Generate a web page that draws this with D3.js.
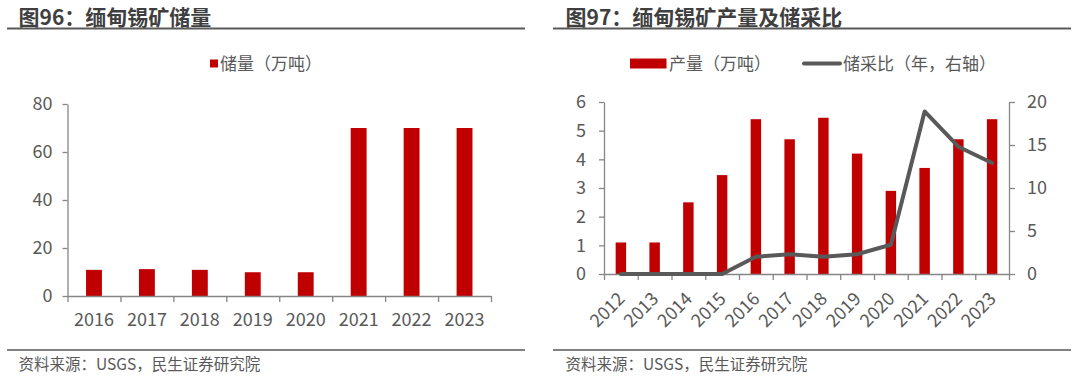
<!DOCTYPE html>
<html>
<head>
<meta charset="utf-8">
<script src="https://cdn.jsdelivr.net/npm/d3@7"></script>
<style>
  html, body { margin: 0; padding: 0; background: #fff; }
  svg { display: block; font-family: "Microsoft YaHei", "Noto Sans CJK SC", "Noto Sans", sans-serif; }
</style>
</head>
<body>
<svg id="chart" width="1080" height="385"></svg>
<script>
// ---- data ----
const reserveYears = ["2016","2017","2018","2019","2020","2021","2022","2023"];
const reserveValues = [10.9, 11.2, 10.9, 9.9, 9.9, 70, 70, 70];
const reserveTicks = [0, 20, 40, 60, 80];

const prodYears = ["2012","2013","2014","2015","2016","2017","2018","2019","2020","2021","2022","2023"];
const prodValues = [1.1, 1.1, 2.5, 3.45, 5.4, 4.7, 5.45, 4.2, 2.9, 3.7, 4.7, 5.4];
const ratioValues = [0, 0, 0, 0, 2.0, 2.3, 2.0, 2.3, 3.4, 18.9, 14.8, 12.9];
const prodTicks = [0, 1, 2, 3, 4, 5, 6];
const ratioTicks = [0, 5, 10, 15, 20];

const titleLeft = "图96：缅甸锡矿储量";
const titleRight = "图97：缅甸锡矿产量及储采比";
const legendReserve = "储量（万吨）";
const legendProd = "产量（万吨）";
const legendRatio = "储采比（年，右轴）";
const sourceText = "资料来源：USGS，民生证券研究院";

// ---- styles ----
const RED = "#C00000";
const LINE = "#595959";
const AXIS = "#868686";
const TXT = "#595959";
const TITLE = "#3f3f3f";

const svg = d3.select("#chart");

function styleAxis(g) {
  g.selectAll(".domain").attr("stroke", AXIS).attr("stroke-width", 1.3);
  g.selectAll(".tick line").attr("stroke", AXIS).attr("stroke-width", 1.3);
  g.selectAll(".tick text").attr("fill", TXT).style("font-size", "18px")
    .style("font-family", "\"Microsoft YaHei\", \"Noto Sans CJK SC\", sans-serif");
}

function frame(x0, x1, textX, title) {
  svg.append("text").attr("x", textX).attr("y", 25)
    .attr("fill", TITLE).style("font-size", "21px").style("font-weight", "bold")
    .text(title);
  svg.append("line").attr("x1", x0).attr("x2", x1).attr("y1", 28.5).attr("y2", 28.5)
    .attr("stroke", "#595959").attr("stroke-width", 2);
  svg.append("line").attr("x1", x0).attr("x2", x1).attr("y1", 350).attr("y2", 350)
    .attr("stroke", "#595959").attr("stroke-width", 1.6);
  svg.append("text").attr("x", textX).attr("y", 369.5)
    .attr("fill", TXT).style("font-size", "15.5px").text(sourceText);
}

// ================= LEFT CHART =================
frame(7, 525, 18.5, titleLeft);
{
  const x0 = 67.5, x1 = 491, yB = 296, yT = 104;
  const xb = d3.scaleBand().domain(reserveYears).range([x0, x1]).paddingInner(0.7).paddingOuter(0.35);
  const xe = d3.scaleLinear().domain([0, reserveYears.length]).range([x0, x1]);
  const y = d3.scaleLinear().domain([0, 80]).range([yB, yT]);

  svg.append("g").selectAll("rect").data(reserveValues).join("rect")
    .attr("x", (d, i) => xb(reserveYears[i]))
    .attr("width", xb.bandwidth())
    .attr("y", d => y(d))
    .attr("height", d => yB - y(d))
    .attr("fill", RED);

  const gy = svg.append("g").attr("transform", `translate(${x0},0)`)
    .call(d3.axisLeft(y).tickValues(reserveTicks).tickFormat(d3.format("d")).tickSize(5).tickSizeOuter(0).tickPadding(10));
  styleAxis(gy);

  const gxe = svg.append("g").attr("transform", `translate(0,${yB})`)
    .call(d3.axisBottom(xe).tickValues(d3.range(reserveYears.length + 1)).tickFormat("").tickSize(6).tickSizeOuter(0));
  styleAxis(gxe);
  const gxl = svg.append("g").attr("transform", `translate(0,${yB})`)
    .call(d3.axisBottom(xb).tickSize(0).tickPadding(17));
  styleAxis(gxl);
  gxl.select(".domain").remove();

  // legend
  svg.append("rect").attr("x", 210).attr("y", 59.5).attr("width", 8).attr("height", 8).attr("fill", RED);
  svg.append("text").attr("x", 220).attr("y", 69.5).attr("fill", TXT).style("font-size", "17px").text(legendReserve);
}

// ================= RIGHT CHART =================
frame(553, 1071, 565.5, titleRight);
{
  const x0 = 604, x1 = 1009, yB = 274, yT = 102;
  const xb = d3.scaleBand().domain(prodYears).range([x0, x1]).paddingInner(0.69).paddingOuter(0.345);
  const xe = d3.scaleLinear().domain([0, prodYears.length]).range([x0, x1]);
  const yL = d3.scaleLinear().domain([0, 6]).range([yB, yT]);
  const yR = d3.scaleLinear().domain([0, 20]).range([yB, yT]);

  svg.append("g").selectAll("rect").data(prodValues).join("rect")
    .attr("x", (d, i) => xb(prodYears[i]))
    .attr("width", xb.bandwidth())
    .attr("y", d => yL(d))
    .attr("height", d => yB - yL(d))
    .attr("fill", RED);

  const gyl = svg.append("g").attr("transform", `translate(${x0},0)`)
    .call(d3.axisLeft(yL).tickValues(prodTicks).tickFormat(d3.format("d")).tickSize(5).tickSizeOuter(0).tickPadding(13));
  styleAxis(gyl);
  const gyr = svg.append("g").attr("transform", `translate(${x1},0)`)
    .call(d3.axisRight(yR).tickValues(ratioTicks).tickFormat(d3.format("d")).tickSize(6).tickSizeOuter(0).tickPadding(12));
  styleAxis(gyr);

  const gxe = svg.append("g").attr("transform", `translate(0,${yB})`)
    .call(d3.axisBottom(xe).tickValues(d3.range(prodYears.length + 1)).tickFormat("").tickSize(6).tickSizeOuter(0));
  styleAxis(gxe);

  const gxl = svg.append("g").attr("transform", `translate(0,${yB})`)
    .call(d3.axisBottom(xb).tickSize(0).tickPadding(0));
  styleAxis(gxl);
  gxl.select(".domain").remove();
  gxl.selectAll(".tick text")
    .attr("text-anchor", "end")
    .attr("dy", null).attr("y", null)
    .attr("transform", "translate(5,26) rotate(-45)");

  const line = d3.line()
    .x((d, i) => xb(prodYears[i]) + xb.bandwidth() / 2)
    .y(d => yR(d));
  svg.append("path").datum(ratioValues)
    .attr("d", line).attr("fill", "none")
    .attr("stroke", LINE).attr("stroke-width", 4)
    .attr("stroke-linejoin", "round").attr("stroke-linecap", "round");

  // legend
  svg.append("rect").attr("x", 630).attr("y", 58.5).attr("width", 36.5).attr("height", 10).attr("fill", RED);
  svg.append("text").attr("x", 669).attr("y", 69.5).attr("fill", TXT).style("font-size", "17px").text(legendProd);
  svg.append("line").attr("x1", 804).attr("x2", 840).attr("y1", 63.5).attr("y2", 63.5)
    .attr("stroke", LINE).attr("stroke-width", 4).attr("stroke-linecap", "round");
  svg.append("text").attr("x", 843).attr("y", 69.5).attr("fill", TXT).style("font-size", "17px").text(legendRatio);
}
</script>
</body>
</html>
